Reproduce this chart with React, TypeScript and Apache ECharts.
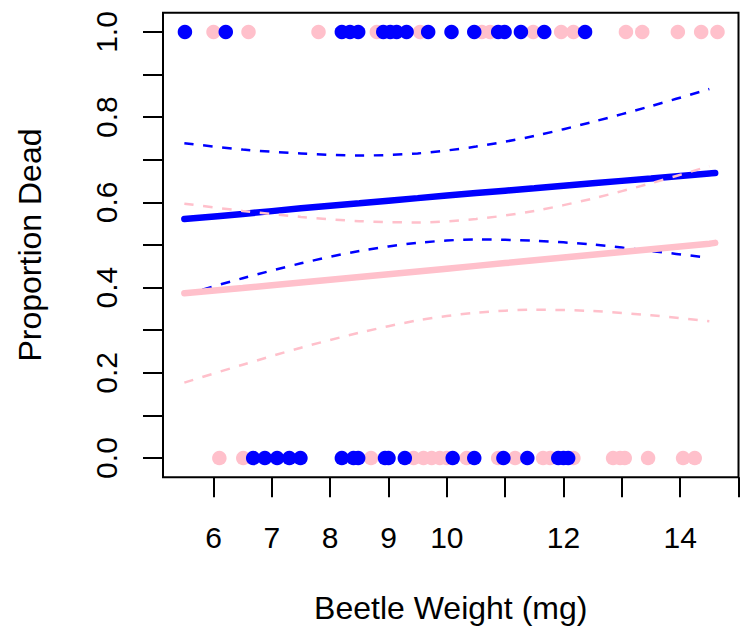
import React, { useEffect, useRef } from "react";
import * as echarts from "echarts";

// ---- data ----
const xTickValues = [6, 7, 8, 9, 10, 11, 12, 13, 14, 15];
const xLabelValues = [6, 7, 8, 9, 10, 12, 14];
const yTickValues = [0, 0.1, 0.2, 0.3, 0.4, 0.5, 0.6, 0.7, 0.8, 0.9, 1.0];
const yLabelValues = [0, 0.2, 0.4, 0.6, 0.8, 1.0];

// beetle weights (mg), dead = 1, alive = 0
const blueDeadX = [5.51, 6.21, 8.2, 8.34, 8.48, 8.91, 9.03, 9.14, 9.31, 9.68, 10.08, 10.47, 10.88, 10.99, 11.27, 11.67, 12.37];
const pinkDeadX = [6.0, 6.6, 7.8, 8.8, 9.54, 10.6, 10.74, 11.48, 11.96, 12.17, 13.07, 13.35, 13.96, 14.36, 14.64];
const blueAliveX = [6.68, 6.88, 7.09, 7.3, 7.49, 8.2, 8.4, 8.48, 8.94, 9.0, 9.28, 10.1, 10.47, 10.97, 11.38, 11.91, 12.0, 12.08];
const pinkAliveX = [6.1, 6.51, 8.7, 9.43, 9.6, 9.74, 9.88, 10.0, 10.34, 10.88, 11.17, 11.65, 11.77, 12.17, 12.85, 12.97, 13.05, 13.45, 14.05, 14.25];

// fitted curves and confidence bands, read at these weights
const curveX = [5.5, 6.5, 7.5, 8.5, 9.5, 10.5, 11.5, 12.5, 13.5, 14.5];
const fitEndX = 14.6;
const blueFitY = [0.561, 0.573, 0.586, 0.598, 0.61, 0.622, 0.633, 0.645, 0.656, 0.668];
const blueFitEnd = 0.669;
const blueUpperY = [0.739, 0.724, 0.715, 0.71, 0.715, 0.731, 0.756, 0.789, 0.826, 0.866];
const blueLowerY = [0.383, 0.422, 0.457, 0.486, 0.505, 0.513, 0.51, 0.501, 0.486, 0.47];
const pinkFitY = [0.387, 0.399, 0.412, 0.425, 0.438, 0.451, 0.464, 0.477, 0.49, 0.503];
const pinkFitEnd = 0.505;
const pinkUpperY = [0.597, 0.58, 0.566, 0.556, 0.553, 0.561, 0.58, 0.609, 0.645, 0.685];
const pinkLowerY = [0.177, 0.219, 0.259, 0.294, 0.323, 0.341, 0.348, 0.345, 0.335, 0.321];

const BLUE = "#0000FF";
const PINK = "#FFC0CB";
const FONT = "'Liberation Sans', Arial, Helvetica, sans-serif";

export default function App() {
  const ref = useRef<HTMLDivElement>(null);
  useEffect(() => {
    if (!ref.current) return;
    const chart = echarts.init(ref.current, undefined, { renderer: "svg" });
    const pair = (ys: number[]) => curveX.map((x, i) => [x, ys[i]]);
    const dashed = (ys: number[], color: string, z: number) => ({
      type: "line",
      data: pair(ys),
      showSymbol: false,
      smooth: 0.3,
      z,
      lineStyle: { color, width: 2.5, type: [9.5, 9.5] },
      silent: true,
    });
    const solid = (ys: number[], endY: number, color: string, z: number) => ({
      type: "line",
      data: [...pair(ys), [fitEndX, endY]],
      showSymbol: false,
      smooth: 0.3,
      z,
      lineStyle: { color, width: 6.5, cap: "round" },
      silent: true,
    });
    const pts = (xs: number[], y: number, color: string, z: number) => ({
      type: "scatter",
      data: xs.map((x) => [x, y]),
      symbolSize: 14.5,
      z,
      itemStyle: { color, opacity: 1 },
      silent: true,
    });
    chart.setOption({
      animation: false,
      backgroundColor: "#fff",
      textStyle: { fontFamily: FONT },
      grid: {
        left: 163,
        right: 12.5,
        top: 12.8,
        bottom: 153.8,
        show: true,
        borderColor: "#000",
        borderWidth: 2,
        backgroundColor: "transparent",
        containLabel: false,
        outerBoundsMode: "none",
      },
      xAxis: {
        type: "value",
        min: 5.134,
        max: 15.0,
        name: "Beetle Weight (mg)",
        nameLocation: "middle",
        nameGap: 131,
        nameTextStyle: { fontSize: 32, color: "#000", fontFamily: FONT, verticalAlign: "middle" },
        axisLine: { show: false, onZero: false },
        splitLine: { show: false },
        axisTick: { show: true, customValues: xTickValues, length: 20, lineStyle: { color: "#000", width: 2 } },
        axisLabel: {
          customValues: xLabelValues,
          margin: 60,
          fontSize: 30,
          color: "#000",
          fontFamily: FONT,
          verticalAlign: "middle",
          align: "center",
          hideOverlap: false,
        },
      },
      yAxis: {
        type: "value",
        min: -0.045,
        max: 1.045,
        name: "Proportion Dead",
        nameLocation: "middle",
        nameGap: 133,
        nameRotate: 90,
        nameTextStyle: { fontSize: 32, color: "#000", fontFamily: FONT, verticalAlign: "middle" },
        axisLine: { show: false, onZero: false },
        splitLine: { show: false },
        axisTick: { show: true, customValues: yTickValues, length: 20, lineStyle: { color: "#000", width: 2 } },
        axisLabel: {
          customValues: yLabelValues,
          rotate: 90,
          margin: 57,
          fontSize: 30,
          color: "#000",
          fontFamily: FONT,
          align: "center",
          verticalAlign: "middle",
          formatter: (v: number) => v.toFixed(1),
          hideOverlap: false,
        },
      },
      series: [
        dashed(blueUpperY, BLUE, 2),
        dashed(blueLowerY, BLUE, 2),
        solid(blueFitY, blueFitEnd, BLUE, 2),
        dashed(pinkUpperY, PINK, 3),
        dashed(pinkLowerY, PINK, 3),
        solid(pinkFitY, pinkFitEnd, PINK, 3),
        pts(pinkDeadX, 1, PINK, 4),
        pts(pinkAliveX, 0, PINK, 4),
        pts(blueDeadX, 1, BLUE, 5),
        pts(blueAliveX, 0, BLUE, 5),
      ],
    });
    return () => chart.dispose();
  }, []);
  return (
    <div
      ref={ref}
      style={{ position: "absolute", left: 0, top: 0, width: 751, height: 631, background: "#fff" }}
    />
  );
}
